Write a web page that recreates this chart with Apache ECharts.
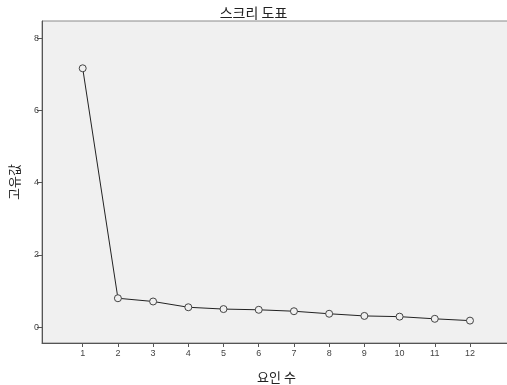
<!DOCTYPE html>
<html>
<head>
<meta charset="utf-8">
<script src="https://cdn.jsdelivr.net/npm/echarts@6/dist/echarts.min.js"></script>
<style>
html,body{margin:0;padding:0;background:#fff;}
#c{width:507px;height:385px;}
</style>
</head>
<body>
<div id="c"></div>
<script>
var chartTitle = '스크리 도표';
var xTitle = '요인 수';
var yTitle = '고유값';
var factors = [1,2,3,4,5,6,7,8,9,10,11,12];
var eigenvalues = [7.17,0.80,0.71,0.55,0.50,0.48,0.44,0.37,0.31,0.29,0.23,0.18];
var xTicks = [1,2,3,4,5,6,7,8,9,10,11,12];
var yTicks = [0,2,4,6,8];

var font = '"Noto Sans CJK KR", "Noto Sans", sans-serif';
var chart = echarts.init(document.getElementById('c'), null, {renderer:'canvas'});
chart.setOption({
  animation:false,
  backgroundColor:'#ffffff',
  title:{
    text:chartTitle, left:'center', top:1,
    textStyle:{fontFamily:font, fontSize:14, fontWeight:'normal', color:'#222'}
  },
  grid:{
    left:42, top:21, right:-4, bottom:42,
    containLabel:false, outerBoundsMode:'none',
    show:true, backgroundColor:'#f0f0f0', borderColor:'#8a8a8a', borderWidth:1
  },
  xAxis:{
    type:'value', min:-0.156, max:13.165,
    name:xTitle, nameLocation:'middle', nameGap:28,
    nameTextStyle:{fontFamily:font, fontSize:13, color:'#222'},
    axisLine:{show:true, onZero:false, lineStyle:{color:'#555', width:1}},
    axisTick:{show:true, length:4, customValues:xTicks, lineStyle:{color:'#555'}},
    axisLabel:{show:true, customValues:xTicks, fontSize:9, color:'#444', margin:6, fontFamily:'Liberation Sans, Arial, sans-serif'},
    splitLine:{show:false}
  },
  yAxis:{
    type:'value', min:-0.44, max:8.48,
    name:yTitle, nameLocation:'middle', nameGap:21, nameRotate:90,
    nameTextStyle:{fontFamily:font, fontSize:13, color:'#222'},
    axisLine:{show:true, onZero:false, lineStyle:{color:'#555', width:1}},
    axisTick:{show:true, length:5, customValues:yTicks, lineStyle:{color:'#555'}},
    axisLabel:{show:true, customValues:yTicks, fontSize:9, color:'#444', margin:3, fontFamily:'Liberation Sans, Arial, sans-serif'},
    splitLine:{show:false}
  },
  series:[{
    type:'line',
    data:factors.map(function(f,i){return [f, eigenvalues[i]];}),
    symbol:'circle', symbolSize:7, showSymbol:true,
    lineStyle:{color:'#222', width:1},
    itemStyle:{color:'#f0f0f0', borderColor:'#444', borderWidth:1},
    emphasis:{disabled:true}
  }]
});
</script>
</body>
</html>
